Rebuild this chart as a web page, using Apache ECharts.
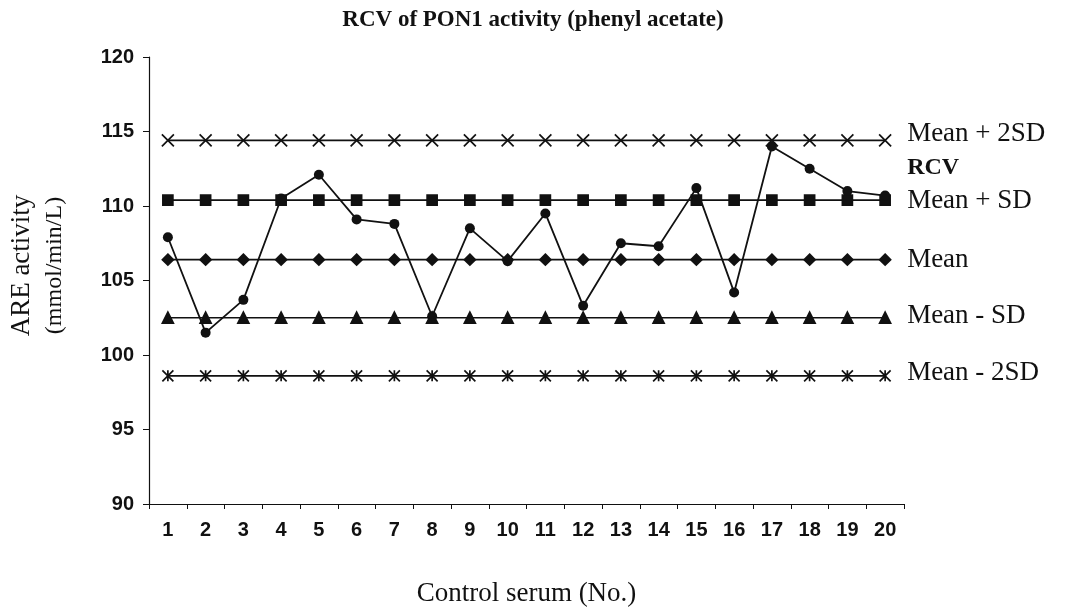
<!DOCTYPE html>
<html>
<head>
<meta charset="utf-8">
<script src="https://cdn.jsdelivr.net/npm/echarts@6/dist/echarts.min.js"></script>
<style>
  html, body { margin: 0; padding: 0; background: #fff; }
  #chart { width: 1078px; height: 612px; }
</style>
</head>
<body>
<div id="chart"></div>
<script>
  const samples = ['1', '2', '3', '4', '5', '6', '7', '8', '9', '10',
    '11', '12', '13', '14', '15', '16', '17', '18', '19', '20'];
  const rcv = [107.9, 101.5, 103.7, 110.5, 112.1, 109.1, 108.8, 102.6, 108.5, 106.3,
    109.5, 103.3, 107.5, 107.3, 111.2, 104.2, 114.0, 112.5, 111.0, 110.7];
  const meanPlus2SD = [114.4, 114.4, 114.4, 114.4, 114.4, 114.4, 114.4, 114.4, 114.4, 114.4,
    114.4, 114.4, 114.4, 114.4, 114.4, 114.4, 114.4, 114.4, 114.4, 114.4];
  const meanPlusSD = [110.4, 110.4, 110.4, 110.4, 110.4, 110.4, 110.4, 110.4, 110.4, 110.4,
    110.4, 110.4, 110.4, 110.4, 110.4, 110.4, 110.4, 110.4, 110.4, 110.4];
  const mean = [106.4, 106.4, 106.4, 106.4, 106.4, 106.4, 106.4, 106.4, 106.4, 106.4,
    106.4, 106.4, 106.4, 106.4, 106.4, 106.4, 106.4, 106.4, 106.4, 106.4];
  const meanMinusSD = [102.5, 102.5, 102.5, 102.5, 102.5, 102.5, 102.5, 102.5, 102.5, 102.5,
    102.5, 102.5, 102.5, 102.5, 102.5, 102.5, 102.5, 102.5, 102.5, 102.5];
  const meanMinus2SD = [98.6, 98.6, 98.6, 98.6, 98.6, 98.6, 98.6, 98.6, 98.6, 98.6,
    98.6, 98.6, 98.6, 98.6, 98.6, 98.6, 98.6, 98.6, 98.6, 98.6];

  const ink = '#111';
  const serif = '"Liberation Serif", "Times New Roman", serif';
  const sans = '"Liberation Sans", Arial, sans-serif';

  function refLine(name, data, symbol, size, labelOffset) {
    return {
      name: name,
      type: 'line',
      data: data,
      symbol: symbol,
      symbolSize: size,
      lineStyle: { color: ink, width: 1.7 },
      itemStyle: { color: ink, borderColor: ink, borderWidth: 1.7 },
      endLabel: {
        show: true,
        formatter: name,
        distance: 22,
        offset: [0, labelOffset],
        color: ink,
        fontFamily: serif,
        fontSize: 27
      },
      z: 2
    };
  }

  const chart = echarts.init(document.getElementById('chart'));
  chart.setOption({
    animation: false,
    backgroundColor: '#fff',
    title: {
      text: 'RCV of PON1 activity (phenyl acetate)',
      left: 528,
      top: 4,
      textAlign: 'center',
      textStyle: { fontFamily: serif, fontWeight: 'bold', fontSize: 23, color: ink }
    },
    grid: { left: 149, right: 174, top: 57, bottom: 108, outerBoundsMode: 'none', containLabel: false },
    xAxis: {
      type: 'category',
      data: samples,
      boundaryGap: true,
      name: 'Control serum (No.)',
      nameLocation: 'middle',
      nameGap: 76,
      nameTextStyle: { fontFamily: serif, fontSize: 27, color: ink },
      axisLine: { lineStyle: { color: ink, width: 1.2 } },
      axisTick: { show: true, interval: 0, length: 5, lineStyle: { color: ink } },
      axisLabel: { interval: 0, margin: 16, fontFamily: sans, fontWeight: 'bold', fontSize: 20, color: ink }
    },
    yAxis: {
      type: 'value',
      min: 90,
      max: 120,
      interval: 5,
      name: '{a|ARE activity}\n{b|(mmol/min/L)}',
      nameLocation: 'middle',
      nameRotate: 90,
      nameGap: 78,
      nameTextStyle: {
        rich: {
          a: { fontFamily: serif, fontSize: 27, color: ink, lineHeight: 34, padding: [0, 0, 0, 30] },
          b: { fontFamily: serif, fontSize: 24, color: ink, lineHeight: 32, padding: [0, 0, 0, 30] }
        }
      },
      splitLine: { show: false },
      axisLine: { show: true, lineStyle: { color: ink, width: 1.2 } },
      axisTick: { show: true, length: 6, lineStyle: { color: ink } },
      axisLabel: { margin: 15, fontFamily: sans, fontWeight: 'bold', fontSize: 20, color: ink }
    },
    series: [
      refLine('Mean + 2SD', meanPlus2SD, 'path://M0,0L10,10M10,0L0,10', 12, -7),
      refLine('Mean + SD', meanPlusSD, 'rect', 10, 1),
      refLine('Mean', mean, 'diamond', 11, 0),
      refLine('Mean - SD', meanMinusSD, 'triangle', 11, -2),
      refLine('Mean - 2SD', meanMinus2SD, 'path://M0,0L10,10M10,0L0,10M5,0L5,10', 11, -3),
      {
        name: 'RCV',
        type: 'line',
        data: rcv,
        symbol: 'circle',
        symbolSize: 10,
        lineStyle: { color: ink, width: 1.8 },
        itemStyle: { color: ink },
        endLabel: {
          show: true,
          formatter: 'RCV',
          distance: 22,
          offset: [0, -28],
          color: ink,
          fontFamily: serif,
          fontWeight: 'bold',
          fontSize: 24
        },
        z: 3
      }
    ]
  });
</script>
</body>
</html>
